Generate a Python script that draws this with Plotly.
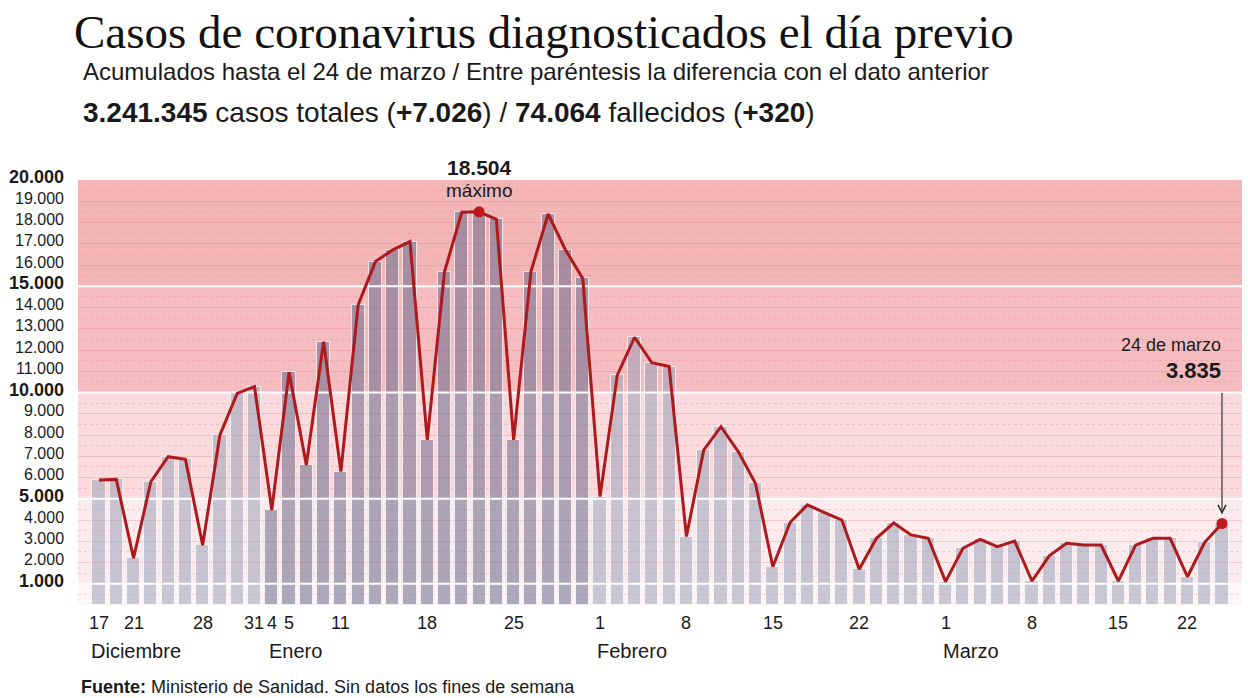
import plotly.graph_objects as go

# ---------------- data ----------------
DATES = ["12-17", "12-18", "12-21", "12-22", "12-23", "12-24", "12-28", "12-29", "12-30", "12-31",
         "01-04", "01-05", "01-07", "01-08", "01-11", "01-12", "01-13", "01-14", "01-15",
         "01-18", "01-19", "01-20", "01-21", "01-22", "01-25", "01-26", "01-27", "01-28", "01-29",
         "02-01", "02-02", "02-03", "02-04", "02-05", "02-08", "02-09", "02-10", "02-11", "02-12",
         "02-15", "02-16", "02-17", "02-18", "02-19", "02-22", "02-23", "02-24", "02-25", "02-26",
         "03-01", "03-02", "03-03", "03-04", "03-05", "03-08", "03-09", "03-10", "03-11", "03-12",
         "03-15", "03-16", "03-17", "03-18", "03-22", "03-23", "03-24"]

CASES = [5880, 5910, 2200, 5800, 6980, 6860, 2820, 8000, 9960, 10280,
         4470, 10950, 6590, 12390, 6280, 14120, 16160, 16710, 17100,
         7770, 15690, 18480, 18504, 18150, 7770, 15690, 18400, 16710, 15370,
         5100, 10820, 12600, 11400, 11220, 3220, 7290, 8390, 7220, 5720,
         1800, 3880, 4710, 4350, 4000, 1680, 3140, 3860, 3300, 3140,
         1100, 2670, 3090, 2750, 3010, 1130, 2310, 2900, 2820, 2820,
         1130, 2820, 3140, 3140, 1330, 2950, 3835]

X_TICK_DATES = ["12-17", "12-21", "12-28", "12-31", "01-04", "01-05", "01-11", "01-18", "01-25",
                "02-01", "02-08", "02-15", "02-22", "03-01", "03-08", "03-15", "03-22"]
MONTH_LABELS = {"12": "Diciembre", "01": "Enero", "02": "Febrero", "03": "Marzo"}
HIGHLIGHT_MONTH = "01"

Y_TICKS = [1000, 2000, 3000, 4000, 5000, 6000, 7000, 8000, 9000, 10000,
           11000, 12000, 13000, 14000, 15000, 16000, 17000, 18000, 19000, 20000]
Y_BOLD = [1000, 5000, 10000, 15000, 20000]
THRESHOLDS = [1000, 5000, 10000, 15000]
BANDS = [(0, 1000, "#fef5f5"), (1000, 5000, "#fcebec"), (5000, 10000, "#fadadc"),
         (10000, 15000, "#f5bdbf"), (15000, 20000, "#f4b5b7")]

TOTAL_CASES = "3.241.345"
NEW_CASES = "+7.026"
TOTAL_DEATHS = "74.064"
NEW_DEATHS = "+320"

# ---------------- layout geometry ----------------
W, H = 1248, 698
PL, PR, PT, PB = 78, 1242, 180, 605  # plot area in pixels
FIRST_BAR_PX, LAST_BAR_PX = 99, 1222
FONT = "Liberation Sans, Arial, sans-serif"
TXT = "#1a1a1a"


def px(xp):
    return (xp - PL) / (PR - PL)


def py(yp):
    return (PB - yp) / (PB - PT)


def fmt(v):
    return f"{v:,}".replace(",", ".")


idx = list(range(len(DATES)))
bar_colors = ["rgba(105,105,140,0.55)" if d.split("-")[0] == HIGHLIGHT_MONTH
              else "rgba(150,160,182,0.52)" for d in DATES]

fig = go.Figure()

fig.add_trace(go.Bar(x=idx, y=CASES, width=0.76, marker=dict(color=bar_colors,
                     line=dict(color="rgba(255,255,255,0.7)", width=1)),
                     hoverinfo="skip", showlegend=False))

for t in THRESHOLDS:
    fig.add_trace(go.Scatter(x=[-3, len(DATES) + 3], y=[t, t], mode="lines",
                             line=dict(color="white", width=2), hoverinfo="skip",
                             showlegend=False))

fig.add_trace(go.Scatter(x=idx, y=CASES, mode="lines",
                         line=dict(color="#ad1a1d", width=3), hoverinfo="skip",
                         showlegend=False))

imax = CASES.index(max(CASES))
ilast = len(CASES) - 1
fig.add_trace(go.Scatter(x=[imax, ilast], y=[CASES[imax], CASES[ilast]], mode="markers",
                         marker=dict(color="#c0161c", size=11), hoverinfo="skip",
                         showlegend=False))

# background bands
shapes = []
for y0, y1, c in BANDS:
    shapes.append(dict(type="rect", xref="paper", x0=0, x1=1, yref="y", y0=y0, y1=y1,
                       fillcolor=c, line=dict(width=0), layer="below"))

annotations = []
# y labels
for v in Y_TICKS:
    bold = v in Y_BOLD
    txt = f"<b>{fmt(v)}</b>" if bold else fmt(v)
    annotations.append(dict(xref="paper", yref="y", x=px(66), y=v, yshift=3,
                            text=txt, showarrow=False, xanchor="right", yanchor="middle",
                            font=dict(family=FONT, size=18 if bold else 16, color=TXT)))

# x labels
seen = set()
for d in X_TICK_DATES:
    i = DATES.index(d)
    m, day = d.split("-")
    lab = str(int(day))
    annotations.append(dict(xref="x", yref="paper", x=i, y=py(623), text=lab,
                            showarrow=False, xanchor="center", yanchor="middle",
                            font=dict(family=FONT, size=18, color=TXT)))
    if m not in seen:
        seen.add(m)
        annotations.append(dict(xref="x", yref="paper", x=i, y=py(651),
                                xshift=-(5 if len(lab) == 1 else 10),
                                text=MONTH_LABELS[m], showarrow=False, xanchor="left",
                                yanchor="middle", font=dict(family=FONT, size=20, color=TXT)))

# max annotation
annotations.append(dict(xref="x", yref="paper", x=imax, y=py(168), text=f"<b>{fmt(CASES[imax])}</b>",
                        showarrow=False, xanchor="center", yanchor="middle",
                        font=dict(family=FONT, size=21, color=TXT)))
annotations.append(dict(xref="x", yref="paper", x=imax, y=py(190), text="máximo",
                        showarrow=False, xanchor="center", yanchor="middle",
                        font=dict(family=FONT, size=19, color=TXT)))

# last value annotation
annotations.append(dict(xref="paper", yref="paper", x=px(1223), y=py(345), text="24 de marzo",
                        showarrow=False, xanchor="right", yanchor="middle",
                        font=dict(family=FONT, size=18, color=TXT)))
annotations.append(dict(xref="paper", yref="paper", x=px(1223), y=py(370),
                        text=f"<b>{fmt(CASES[ilast])}</b>",
                        showarrow=False, xanchor="right", yanchor="middle",
                        font=dict(family=FONT, size=22, color=TXT)))
annotations.append(dict(xref="x", yref="y", x=ilast, y=CASES[ilast], text="",
                        showarrow=True, ax=0, ay=-132, axref="pixel", ayref="pixel",
                        arrowhead=5, arrowsize=1.3, arrowwidth=1.2, arrowcolor="#333",
                        standoff=9))

# titles
annotations.append(dict(xref="paper", yref="paper", x=px(72), y=py(32),
                        text="Casos de coronavirus diagnosticados el día previo",
                        showarrow=False, xanchor="left", yanchor="middle",
                        font=dict(family="Liberation Serif, Times New Roman, serif", size=47,
                                  color="#111")))
annotations.append(dict(xref="paper", yref="paper", x=px(81), y=py(72),
                        text="Acumulados hasta el 24 de marzo / Entre paréntesis la diferencia con el dato anterior",
                        showarrow=False, xanchor="left", yanchor="middle",
                        font=dict(family=FONT, size=24, color=TXT)))
annotations.append(dict(xref="paper", yref="paper", x=px(81), y=py(112),
                        text=f"<b>{TOTAL_CASES}</b> casos totales (<b>{NEW_CASES}</b>) / "
                             f"<b>{TOTAL_DEATHS}</b> fallecidos (<b>{NEW_DEATHS}</b>)",
                        showarrow=False, xanchor="left", yanchor="middle",
                        font=dict(family=FONT, size=28, color=TXT)))
annotations.append(dict(xref="paper", yref="paper", x=px(79), y=py(687),
                        text="<b>Fuente:</b> Ministerio de Sanidad. Sin datos los fines de semana",
                        showarrow=False, xanchor="left", yanchor="middle",
                        font=dict(family=FONT, size=18, color=TXT)))

spacing = (LAST_BAR_PX - FIRST_BAR_PX) / (len(DATES) - 1)
x0 = -(FIRST_BAR_PX - PL) / spacing
x1 = (len(DATES) - 1) + (PR - LAST_BAR_PX) / spacing

fig.update_layout(
    width=W, height=H,
    margin=dict(l=PL, r=W - PR, t=PT, b=H - PB, pad=0),
    paper_bgcolor="white", plot_bgcolor="white",
    bargap=0,
    shapes=shapes, annotations=annotations,
    xaxis=dict(range=[x0, x1], showgrid=False, zeroline=False, showticklabels=False,
               ticks="", fixedrange=True),
    yaxis=dict(range=[0, 20000], dtick=1000, tick0=0, showticklabels=False, ticks="",
               showgrid=True, gridcolor="rgba(215,120,125,0.30)", gridwidth=1,
               zeroline=False, fixedrange=True,
               minor=dict(dtick=500, showgrid=True, gridcolor="rgba(215,120,125,0.28)",
                          griddash="dot", gridwidth=1)),
    font=dict(family=FONT, color=TXT),
)

fig.write_html("out.html", config={"displayModeBar": False},
               post_script="document.body.style.margin='0';document.body.style.overflow='hidden';")
